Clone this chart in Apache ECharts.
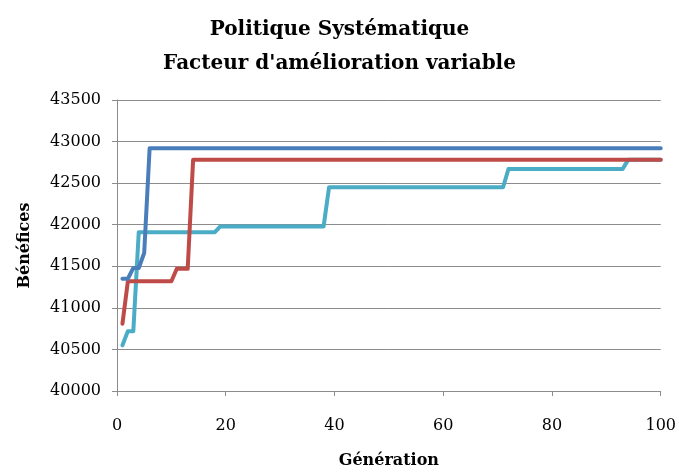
<!DOCTYPE html>
<html>
<head>
<meta charset="utf-8">
<script src="https://cdn.jsdelivr.net/npm/echarts@6/dist/echarts.min.js"></script>
<style>
  html, body { margin: 0; padding: 0; background: #fff; }
  #chart { width: 679px; height: 475px; }
</style>
</head>
<body>
<div id="chart"></div>
<script>
// generation / profit change points
const blueGen = [1, 2, 3, 4, 5, 6, 100]
const blueVal = [41350, 41350, 41480, 41480, 41660, 42920, 42920]

const redGen = [1, 2, 10, 11, 13, 14, 100]
const redVal = [40810, 41320, 41320, 41470, 41470, 42780, 42780]

const cyanGen = [1, 2, 3, 4, 18, 19, 38, 39, 71, 72, 93, 94, 100]
const cyanVal = [40550, 40720, 40720, 41910, 41910, 41980, 41980, 42450, 42450, 42670, 42670, 42780, 42780]

const xTicks = [0, 20, 40, 60, 80, 100]
const yTicks = [40000, 40500, 41000, 41500, 42000, 42500, 43000, 43500]

const pairs = (gx, vy) => gx.map((g, i) => [g, vy[i]])

const serif = 'DejaVu Serif'
const axisGray = '#8c8c8c'

const chart = echarts.init(document.getElementById('chart'))

const lineSeries = (name, gx, vy, color) => ({
  name: name,
  type: 'line',
  data: pairs(gx, vy),
  symbol: 'none',
  smooth: false,
  lineStyle: { color: color, width: 4, cap: 'round', join: 'round' },
  itemStyle: { color: color }
})

chart.setOption({
  animation: false,
  backgroundColor: '#fff',
  title: {
    text: 'Politique Systématique\nFacteur d\'amélioration variable',
    left: 'center',
    top: 8,
    textStyle: {
      fontFamily: serif,
      fontWeight: 'bold',
      fontSize: 20,
      lineHeight: 34,
      color: '#000'
    }
  },
  grid: { left: 117, right: 15, top: 100, bottom: 84 },
  xAxis: {
    type: 'value',
    min: xTicks[0],
    max: xTicks[xTicks.length - 1],
    interval: 20,
    name: 'Génération',
    nameLocation: 'middle',
    nameGap: 62,
    nameTextStyle: { fontFamily: serif, fontWeight: 'bold', fontSize: 16, color: '#000' },
    axisLine: { lineStyle: { color: axisGray, width: 1 } },
    axisTick: { show: true, length: 5, lineStyle: { color: axisGray } },
    axisLabel: { fontFamily: serif, fontSize: 16, color: '#000', margin: 27 },
    splitLine: { show: false }
  },
  yAxis: {
    type: 'value',
    min: yTicks[0],
    max: yTicks[yTicks.length - 1],
    interval: 500,
    name: 'Bénéfices',
    nameLocation: 'middle',
    nameGap: 84,
    nameRotate: 90,
    nameTextStyle: { fontFamily: serif, fontWeight: 'bold', fontSize: 16, color: '#000' },
    axisLine: { show: true, lineStyle: { color: axisGray, width: 1 } },
    axisTick: { show: true, length: 5, lineStyle: { color: axisGray } },
    axisLabel: {
      fontFamily: serif,
      fontSize: 16,
      color: '#000',
      margin: 16,
      formatter: (v) => String(v)
    },
    splitLine: { show: true, lineStyle: { color: axisGray, width: 1 } }
  },
  series: [
    lineSeries('Série 3', cyanGen, cyanVal, '#4BACC6'),
    lineSeries('Série 2', redGen, redVal, '#BE4B48'),
    lineSeries('Série 1', blueGen, blueVal, '#4A7EBB')
  ]
})
</script>
</body>
</html>
